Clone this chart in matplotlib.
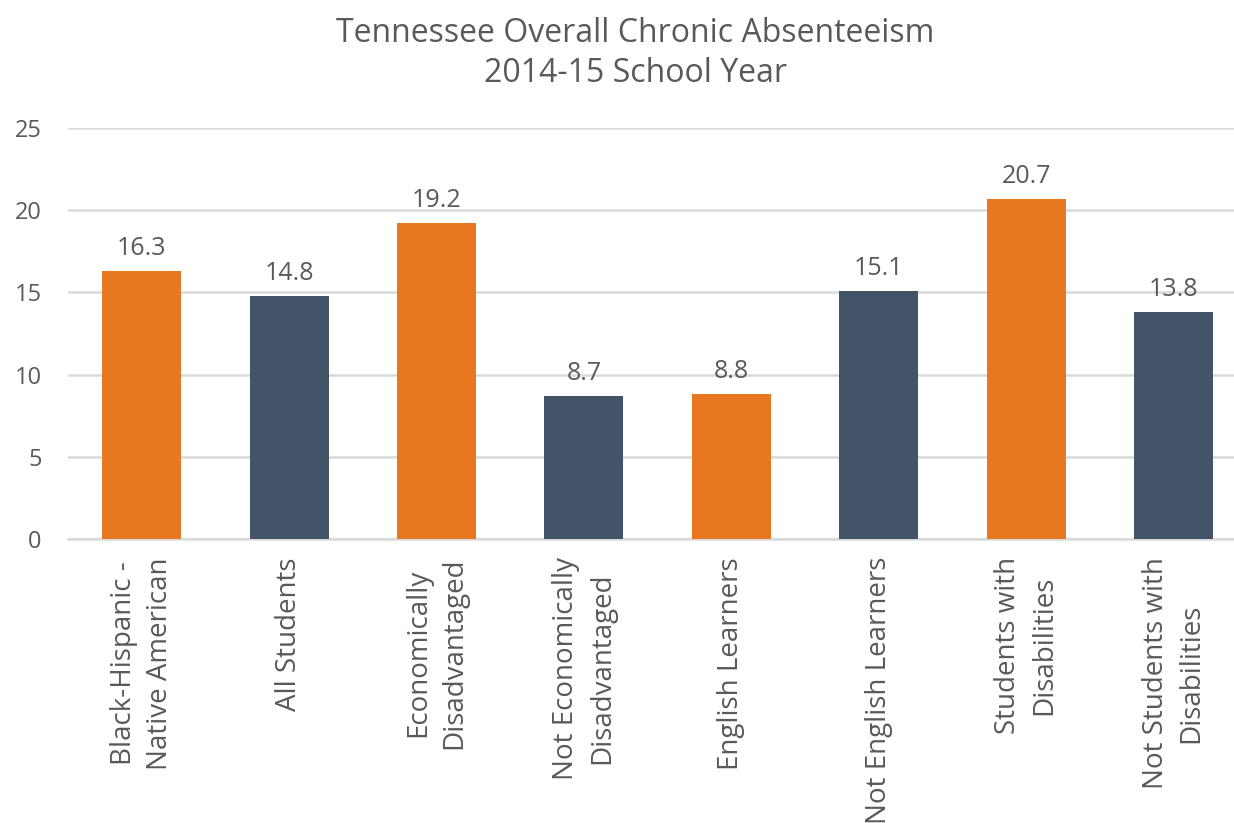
import matplotlib
matplotlib.use("Agg")
import matplotlib.pyplot as plt

categories = ["Black-Hispanic -\nNative American", "All Students", "Economically\nDisadvantaged",
              "Not Economically\nDisadvantaged", "English Learners", "Not English Learners",
              "Students with\nDisabilities", "Not Students with\nDisabilities"]
values = [16.3, 14.8, 19.2, 8.7, 8.8, 15.1, 20.7, 13.8]
colors = ["#E87722", "#435469", "#E87722", "#435469", "#E87722", "#435469", "#E87722", "#435469"]
yticks = [0, 5, 10, 15, 20, 25]

plt.rcParams['font.family'] = ['Open Sans', 'DejaVu Sans']
txt = "#595959"

fig = plt.figure(figsize=(12.34, 8.23), dpi=100)
ax = fig.add_axes([68/1234, 1-539/823, 1-68/1234, (539-128)/823])
x = list(range(len(categories)))
bars = ax.bar(x, values, width=0.536, color=colors, zorder=3)
for xi, v in zip(x, values):
    ax.text(xi, v + 0.6, f"{v}", ha="center", va="bottom", fontsize=18, color=txt)

ax.set_xlim(-0.5, 7.41)
ax.set_ylim(0, 25)
ax.set_yticks(yticks)
ax.yaxis.grid(True, color="#d9d9d9", linewidth=1.8, zorder=0)
for s in ["top", "right", "left"]:
    ax.spines[s].set_visible(False)
ax.spines["bottom"].set_color("#d9d9d9")
ax.spines["bottom"].set_linewidth(1.8)
ax.tick_params(axis="both", length=0, labelcolor=txt)
ax.tick_params(axis="y", pad=19, labelsize=17)
ax.tick_params(axis="x", pad=13)
ax.set_xticks(x)
ax.set_xticklabels(categories, rotation=90, ha="center", va="top", fontsize=20, linespacing=1.38)

fig.text(635/1234, 1-17/823, "Tennessee Overall Chronic Absenteeism\n2014-15 School Year",
         ha="center", va="top", fontsize=23, color=txt, linespacing=1.3)

fig.savefig("out.png", dpi=100)
